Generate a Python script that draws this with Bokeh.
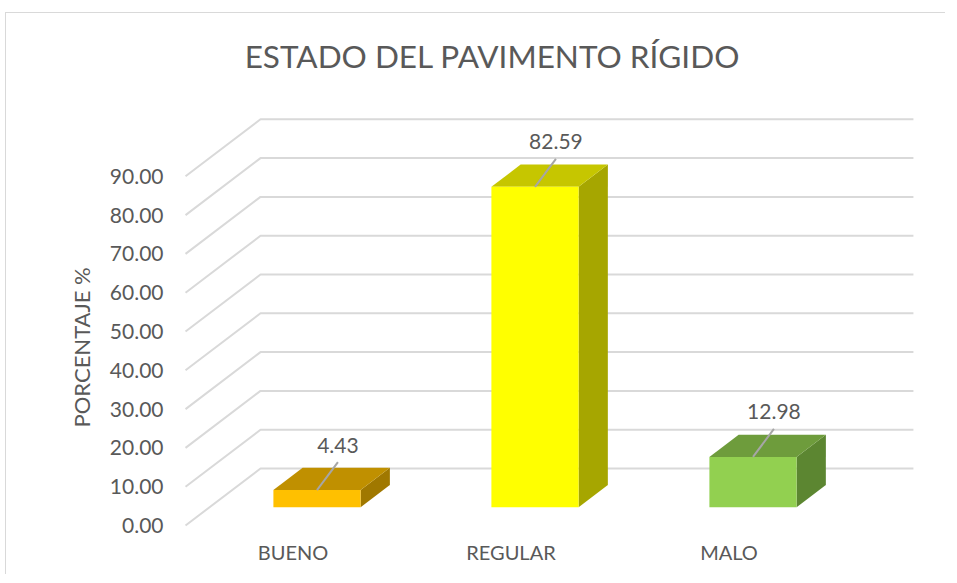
import math
from bokeh.plotting import figure
from bokeh.models import FixedTicker, Label, PrintfTickFormatter, Range1d, Title
from bokeh.core.properties import value
from bokeh.embed import file_html
from bokeh.resources import INLINE

# ---- data ----
categories = ["BUENO", "REGULAR", "MALO"]
values = [4.43, 82.59, 12.98]
tick_values = [0, 10, 20, 30, 40, 50, 60, 70, 80, 90]
title_text = "ESTADO DEL PAVIMENTO RÍGIDO"
y_title = "PORCENTAJE %"

# ---- style ----
front_colors = ["#FFC000", "#FFFF00", "#92D050"]
top_colors = ["#C09000", "#C6C600", "#6E9C3C"]
side_colors = ["#A07800", "#A6A600", "#5C8631"]
TEXT = "#595959"
GRID = "#D9D9D9"
FONT = "Lato"

# oblique projection (category units / value units)
DX = 0.344      # x shift for full floor depth
DY = 14.69      # y shift for full floor depth
FLOOR_LEFT = -0.493
WALL_RIGHT = 2.846
D_FRONT = 0.32  # bar front plane depth
D_BAR = 0.39    # bar depth
HALF_W = 0.2

p = figure(width=940, height=562, output_backend="svg", toolbar_location=None,
           x_range=Range1d(-0.539, 2.9243), y_range=Range1d(-1.289, 128.87),
           min_border_left=169, min_border_right=16, min_border_top=12, min_border_bottom=45,
           outline_line_color=None, background_fill_color="white", border_fill_color="white")
p.margin = (12, 0, 0, 5)
p.styles = {"border-left": "1px solid #D9D9D9", "border-top": "1px solid #D9D9D9"}
p.xgrid.visible = False
p.ygrid.visible = False

# gridlines (diagonal on left wall floor + back wall)
xs, ys = [], []
for t in tick_values:
    xs.append([FLOOR_LEFT, FLOOR_LEFT + DX, WALL_RIGHT])
    ys.append([t, t + DY, t + DY])
p.multi_line(xs, ys, line_color=GRID, line_width=2)

# bars
fx, fy, tx, ty, sx, sy = [], [], [], [], [], []
lx, ly, labx, laby, labt = [], [], [], [], []
for i, v in enumerate(values):
    cx = i + D_FRONT * DX
    y0 = D_FRONT * DY
    bx = D_BAR * DX
    by = D_BAR * DY
    l, r = cx - HALF_W, cx + HALF_W
    fx.append([l, r, r, l]); fy.append([y0, y0, y0 + v, y0 + v])
    tx.append([l, r, r + bx, l + bx]); ty.append([y0 + v, y0 + v, y0 + v + by, y0 + v + by])
    sx.append([r, r + bx, r + bx, r]); sy.append([y0, y0 + by, y0 + v + by, y0 + v])
    lx.append([cx, cx + 0.096]); ly.append([y0 + v, y0 + v + 7.2])
    labx.append(cx + 0.096); laby.append(y0 + v + 11.6); labt.append(f"{v:.2f}")

p.patches(sx, sy, fill_color=side_colors, line_color=None)
p.patches(tx, ty, fill_color=top_colors, line_color=None)
p.patches(fx, fy, fill_color=front_colors, line_color=None)
p.multi_line(lx, ly, line_color="#A6A6A6", line_width=2)
p.text(labx, laby, text=labt, text_align="center", text_baseline="middle",
       text_font=value(FONT), text_font_size="21px", text_color=TEXT)

# axes
p.yaxis.ticker = FixedTicker(ticks=tick_values)
p.yaxis.formatter = PrintfTickFormatter(format="%.2f")
p.yaxis.axis_line_color = None
p.yaxis.major_tick_line_color = None
p.yaxis.minor_tick_line_color = None
p.yaxis.major_label_standoff = 6
p.yaxis.major_label_text_font = FONT
p.yaxis.major_label_text_font_size = "21px"
p.yaxis.major_label_text_color = TEXT

p.xaxis.ticker = FixedTicker(ticks=[0, 1, 2])
p.xaxis.major_label_overrides = {i: c for i, c in enumerate(categories)}
p.xaxis.axis_line_color = None
p.xaxis.major_tick_line_color = None
p.xaxis.minor_tick_line_color = None
p.xaxis.major_label_standoff = 3
p.xaxis.major_label_text_font = FONT
p.xaxis.major_label_text_font_size = "20px"
p.xaxis.major_label_text_color = TEXT

# chart title (inside the frame)
p.add_layout(Label(x=0.915, y=120.9, text=title_text,
                   text_align="center", text_baseline="middle", text_font=FONT,
                   text_font_size="31.5px", text_color=TEXT))
# value-axis title as a side title on the left
p.add_layout(Title(text=y_title, align="left", offset=103, standoff=20,
                   vertical_align="top", text_font=FONT, text_font_size="22px",
                   text_font_style="normal", text_color=TEXT), "left")

open("out.html", "w").write(file_html(p, INLINE))
